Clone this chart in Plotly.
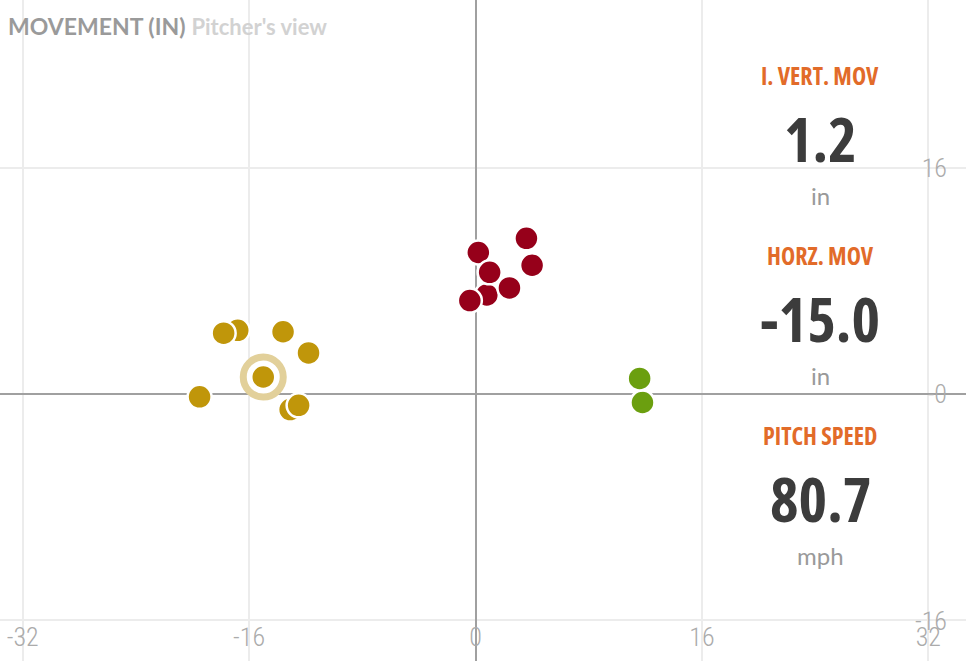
import plotly.graph_objects as go

# ---- data (inches, pitcher's view) ----
gold_x = [-16.8, -17.8, -13.6, -11.8, -19.5, -13.1, -12.5]
gold_y = [4.5, 4.3, 4.4, 2.9, -0.2, -1.1, -0.8]
red_x = [0.8, 3.6, 4.0, 0.2, 1.0, 2.4, -0.4]
red_y = [7.0, 11.0, 9.1, 10.0, 8.6, 7.5, 6.6]
green_x = [11.8, 11.6]
green_y = [-0.6, 1.1]
sel_x = [-15.0]
sel_y = [1.2]
sel_speed = 80.7

x_ticks = [-32, -16, 0, 16, 32]
y_ticks = [-16, 0, 16]
y_ticktext = ["-16", "-0", "16"]

GOLD = "#C0960A"
RED = "#96001A"
GREEN = "#6B9F0F"
HALO = "#E2D09A"

fig = go.Figure()

def pts(xs, ys, color):
    fig.add_trace(go.Scatter(
        x=xs, y=ys, mode="markers", hoverinfo="skip",
        marker=dict(size=24, color=color, line=dict(color="white", width=2.5)),
    ))

pts(gold_x, gold_y, GOLD)
pts(red_x, red_y, RED)
pts(green_x, green_y, GREEN)
# selected pitch with halo
fig.add_trace(go.Scatter(
    x=sel_x, y=sel_y, mode="markers", hoverinfo="skip",
    marker=dict(size=40, color="white", line=dict(color=HALO, width=7)),
))
pts(sel_x, sel_y, GOLD)

W, H = 966, 661
px_per = 14.15
x0px, y0px = 475.5, 394
xr = [-x0px / px_per, (W - x0px) / px_per]
yr = [-(H - y0px) / px_per, y0px / px_per]

tickfont = dict(family="Roboto Condensed", size=26, color="#ababab", weight=300)

fig.update_layout(
    width=W, height=H,
    margin=dict(l=0, r=0, t=0, b=0),
    paper_bgcolor="white", plot_bgcolor="white",
    showlegend=False,
    xaxis=dict(range=xr, tickvals=x_ticks, ticktext=[str(v) for v in x_ticks],
               showgrid=True, gridcolor="#ececec", gridwidth=1.5,
               zeroline=True, zerolinecolor="#a0a0a0", zerolinewidth=2,
               ticklabelposition="inside", ticklabeloverflow="allow",
               ticklabelstandoff=7,
               ticks="", tickfont=tickfont, showline=False, fixedrange=True),
    yaxis=dict(range=yr, tickvals=y_ticks, ticktext=y_ticktext, side="right",
               showgrid=True, gridcolor="#ececec", gridwidth=1.5,
               zeroline=True, zerolinecolor="#a0a0a0", zerolinewidth=2,
               ticklabelposition="inside", ticklabeloverflow="allow",
               ticklabelstandoff=16,
               ticks="", tickfont=tickfont, showline=False, fixedrange=True),
)

def ann(text, px, py, size, color, family, weight=None, xanchor="center"):
    f = dict(size=size, color=color, family=family)
    if weight:
        f["weight"] = weight
    fig.add_annotation(text=text, xref="paper", yref="paper",
                       x=px / W, y=1 - py / H, xanchor=xanchor, yanchor="middle",
                       showarrow=False, font=f)

ann("<b>MOVEMENT (IN)</b> <span style='color:#d2d2d2;font-size:22px'><b>Pitcher's view</b></span>",
    6, 26, 23, "#9a9a9a", "Lato", xanchor="left")

cond = "Open Sans"
def c(t):
    return f"<span style='font-stretch:condensed'><b>{t}</b></span>"

labels = ["I. VERT. MOV", "HORZ. MOV", "PITCH SPEED"]
values = [f"{sel_y[0]:.1f}", f"{sel_x[0]:.1f}", f"{sel_speed:.1f}"]
units = ["in", "in", "mph"]
tops = [75, 255, 435]
for lab, val, unit, t in zip(labels, values, units, tops):
    ann(c(lab), 820, t, 24, "#E26B29", cond)
    ann(c(val), 820, t + 63, 61, "#3c3c3c", cond)
    ann(unit, 820, t + 120, 24, "#9a9a9a", "Lato")

fig.write_html("out.html", config={"displayModeBar": False},
               post_script="document.body.style.margin='0';")
